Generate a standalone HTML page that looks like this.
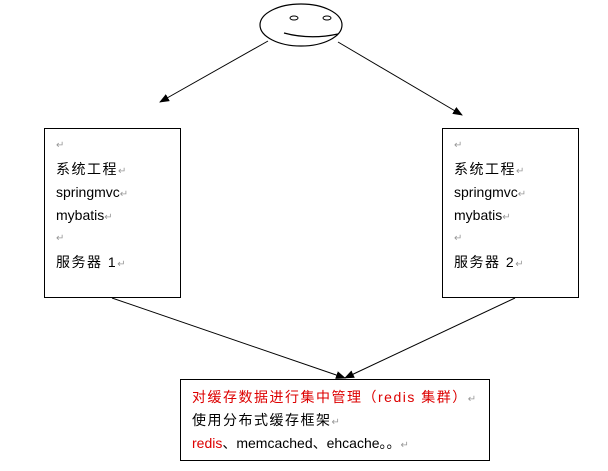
<!DOCTYPE html>
<html><head><meta charset="utf-8"><style>
body{margin:0;width:608px;height:471px;background:#fff;position:relative;overflow:hidden;font-family:"Liberation Sans","Noto Sans CJK SC",sans-serif;}
.t{position:absolute;font-size:14px;color:#000;white-space:nowrap;line-height:16px}
.c{letter-spacing:1.5px}
.m{color:#999;font-size:10px;letter-spacing:0}
.r{color:#d00}
</style></head><body>
<svg width="608" height="471" style="position:absolute;left:0;top:0">
<defs><marker id="a" markerWidth="10" markerHeight="8" refX="9" refY="4" orient="auto" markerUnits="userSpaceOnUse"><path d="M0,0L10,4L0,8z" fill="#000"/></marker></defs>
<ellipse cx="301" cy="25" rx="41" ry="21" fill="#fff" stroke="#000" stroke-width="1.2"/>
<ellipse cx="294" cy="18" rx="4" ry="2" fill="none" stroke="#000"/>
<ellipse cx="327" cy="18" rx="4" ry="2" fill="none" stroke="#000"/>
<path d="M284,33 Q310,40 338,34" fill="none" stroke="#000" stroke-width="1.2"/>
<line x1="268" y1="41" x2="160" y2="102" stroke="#000" marker-end="url(#a)"/>
<line x1="338" y1="42" x2="462" y2="115" stroke="#000" marker-end="url(#a)"/>
<rect x="44.5" y="128.5" width="136" height="169" fill="none" stroke="#000"/>
<rect x="442.5" y="128.5" width="136" height="169" fill="none" stroke="#000"/>
<rect x="180.5" y="379.5" width="309" height="81" fill="none" stroke="#000"/>
<line x1="112" y1="298" x2="345" y2="378" stroke="#000" marker-end="url(#a)"/>
<line x1="515" y1="298" x2="345" y2="378" stroke="#000" marker-end="url(#a)"/>
</svg>
<div class="t m" style="left:56px;top:138px">↵</div>
<div class="t c" style="left:56px;top:161px">系统工程<span class="m">↵</span></div>
<div class="t" style="left:56px;top:184px">springmvc<span class="m">↵</span></div>
<div class="t" style="left:56px;top:207px">mybatis<span class="m">↵</span></div>
<div class="t m" style="left:56px;top:231px">↵</div>
<div class="t c" style="left:56px;top:254px">服务器 1<span class="m">↵</span></div>
<div class="t m" style="left:454px;top:138px">↵</div>
<div class="t c" style="left:454px;top:161px">系统工程<span class="m">↵</span></div>
<div class="t" style="left:454px;top:184px">springmvc<span class="m">↵</span></div>
<div class="t" style="left:454px;top:207px">mybatis<span class="m">↵</span></div>
<div class="t m" style="left:454px;top:231px">↵</div>
<div class="t c" style="left:454px;top:254px">服务器 2<span class="m">↵</span></div>
<div class="t r c" style="left:192px;top:389px">对缓存数据进行集中管理（redis 集群）<span class="m">↵</span></div>
<div class="t c" style="left:192px;top:412px">使用分布式缓存框架<span class="m">↵</span></div>
<div class="t" style="left:192px;top:435px"><span class="r">redis</span>、memcached、ehcache。。<span class="m">↵</span></div>
</body></html>
